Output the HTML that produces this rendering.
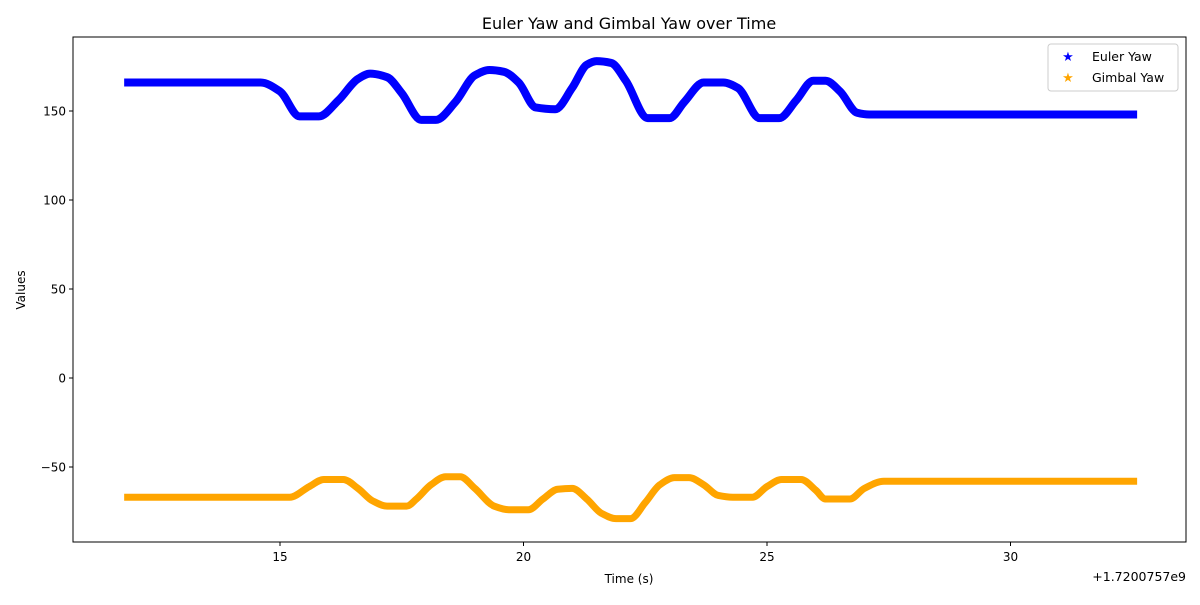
<!DOCTYPE html>
<html><head><meta charset="utf-8">
<style>
body{margin:0;background:#fff;font-family:"Liberation Sans","DejaVu Sans",sans-serif;}
svg text{font-family:"DejaVu Sans","Liberation Sans",sans-serif;}
</style></head>
<body>
<svg id="chart" width="1200" height="600" viewBox="0 0 1200 600">
<rect width="1200" height="600" fill="#fff"/>
<text x="629" y="29" text-anchor="middle" font-size="16">Euler Yaw and Gimbal Yaw over Time</text>
<g id="plot"></g>
<rect x="73" y="37" width="1113" height="505" fill="none" stroke="#000" stroke-width="1"/>
<g id="xticks"></g><g id="yticks"></g>
<text x="629" y="583" text-anchor="middle" font-size="12">Time (s)</text>
<text x="1186" y="581" text-anchor="end" font-size="12.5">+1.7200757e9</text>
<text transform="translate(25,290) rotate(-90)" text-anchor="middle" font-size="12">Values</text>
<g>
<rect x="1048" y="44" width="130" height="47" fill="#fff" stroke="#ccc" rx="3"/>
<text x="1068" y="61" text-anchor="middle" font-size="13" fill="blue">★</text>
<text x="1092" y="61" font-size="12.5">Euler Yaw</text>
<text x="1068" y="82" text-anchor="middle" font-size="13" fill="orange">★</text>
<text x="1092" y="82" font-size="12.5">Gimbal Yaw</text>
</g>
</svg>
<script>
const eulerT=[11.8,14.6,15.0,15.4,15.8,16.2,16.6,16.85,17.2,17.5,17.9,18.2,18.6,19.0,19.3,19.6,19.9,20.25,20.65,21.0,21.3,21.5,21.8,22.1,22.55,23.0,23.3,23.7,24.1,24.4,24.85,25.25,25.6,25.95,26.2,26.5,26.85,27.1,32.6];
const eulerV=[166,166,161,147,147,156,168,171,169,160,145,145,155,170,173,172,166,152,151,163,176,178,177,167,146,146,155,166,166,163,146,146,156,167,167,161,149,148,148];
const gimbT=[11.8,15.2,15.6,15.9,16.3,16.6,16.9,17.2,17.6,17.8,18.1,18.4,18.7,19.0,19.4,19.7,20.1,20.4,20.7,21.0,21.3,21.6,21.9,22.2,22.5,22.8,23.1,23.4,23.7,24.0,24.3,24.7,25.0,25.3,25.7,26.0,26.2,26.7,27.0,27.4,32.6];
const gimbV=[-67,-67,-61,-57,-57,-62,-69,-72,-72,-68,-60,-55.5,-55.5,-62,-72,-74,-74,-68,-62.5,-62,-68,-76,-79,-79,-70,-60,-56,-56,-60,-66,-67,-67,-61,-57,-57,-63,-68,-68,-62,-58,-58];
const xTicks=[15,20,25,30];
const yTicks=[-50,0,50,100,150];
const X=t=>280+(t-15)*48.7;
const Y=v=>378-v*1.78;
const NS='http://www.w3.org/2000/svg';
function mk(tag,attrs,parent){const e=document.createElementNS(NS,tag);for(const k in attrs)e.setAttribute(k,attrs[k]);parent.appendChild(e);return e;}
function smooth(T,V){
  const x=T.map(X),y=V.map(Y),n=x.length;
  const d=[],m=new Array(n);
  for(let i=0;i<n-1;i++)d.push((y[i+1]-y[i])/(x[i+1]-x[i]));
  m[0]=d[0];m[n-1]=d[n-2];
  for(let i=1;i<n-1;i++){
    if(d[i-1]*d[i]<=0)m[i]=0;
    else{const w1=2*(x[i+1]-x[i])+(x[i]-x[i-1]),w2=(x[i+1]-x[i])+2*(x[i]-x[i-1]);
      m[i]=(w1+w2)/(w1/d[i-1]+w2/d[i]);}
  }
  let p='M'+x[0]+','+y[0];
  for(let i=0;i<n-1;i++){
    const h=(x[i+1]-x[i])/3;
    p+=` C${x[i]+h},${y[i]+m[i]*h} ${x[i+1]-h},${y[i+1]-m[i+1]*h} ${x[i+1]},${y[i+1]}`;
  }
  return p;
}
const plot=document.getElementById('plot');
const e=mk('path',{d:smooth(eulerT,eulerV),fill:'none',stroke:'blue','stroke-width':8,'stroke-linejoin':'round'},plot);


const g=mk('path',{d:smooth(gimbT,gimbV),fill:'none',stroke:'orange','stroke-width':7,'stroke-linejoin':'round'},plot);


const xt=document.getElementById('xticks');
xTicks.forEach(v=>{
  const l=mk('line',{x1:X(v),x2:X(v),y1:542,y2:546,stroke:'#000'},xt);
  
  
  const t=mk('text',{x:X(v),y:561,'text-anchor':'middle','font-size':12},xt);t.textContent=v;
  
  
});
const yt=document.getElementById('yticks');
yTicks.forEach(v=>{
  const l=mk('line',{x1:69,x2:73,y1:Y(v),y2:Y(v),stroke:'#000'},yt);
  
  
  const t=mk('text',{x:66,y:Y(v)+4.5,'text-anchor':'end','font-size':12},yt);t.textContent=v<0?'\u2212'+Math.abs(v):v;
  
  
});
</script>
</body></html>
